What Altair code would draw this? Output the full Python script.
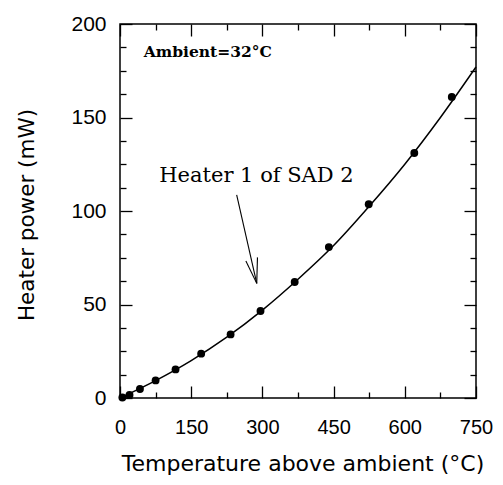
import altair as alt
import pandas as pd

# Measured points
temp_pts = [5, 20, 42, 75, 117, 171, 233, 296, 368, 440, 524, 620, 699]
power_pts = [0.3, 1.6, 4.8, 9.4, 15.3, 23.7, 34, 46.5, 62, 80.7, 103.6, 131, 161]

# Fitted curve
curve_temp = [0, 75, 150, 225, 300, 375, 450, 525, 600, 675, 750]
curve_power = [0, 9.3, 20, 32.5, 47, 63.5, 81.5, 102.5, 125, 150, 177]

# Axis ticks
x_major = [0, 150, 300, 450, 600, 750]
x_minor = [75, 225, 375, 525, 675]
y_major = [0, 50, 100, 150, 200]
y_minor = [12.5, 25, 37.5, 62.5, 75, 87.5, 112.5, 125, 137.5, 162.5, 175, 187.5]

# Arrow segments (shaft + two head strokes)
arrow_x0 = [245.8, 288.1, 288.1]
arrow_y0 = [108.6, 61.3, 61.3]
arrow_x1 = [288.1, 265.2, 289.6]
arrow_y1 = [61.3, 73.3, 75.2]

label_text = ["Heater 1 of SAD 2"]
label_x = [287.5]
label_y = [118.9]

amb_text = ["Ambient=32°C"]
amb_x = [50]
amb_y = [185.2]

x_title = ["Temperature above ambient (°C)"]
y_title = ["Heater power (mW)"]

W, H = 356, 374
MAJ, MIN = 12, 6

xs = alt.Scale(domain=[0, 750], nice=False, zero=False)
ys = alt.Scale(domain=[0, 200], nice=False, zero=False)

pts = pd.DataFrame({"t": temp_pts, "p": power_pts})
crv = pd.DataFrame({"t": curve_temp, "p": curve_power})


def tick_axis(orient, vals, length):
    # inward ticks: axis line pulled inside the frame, ticks reaching back to the edge
    return alt.Axis(orient=orient, values=vals, offset=-length, tickSize=length,
                    ticks=True, tickColor="black", tickWidth=1.3,
                    labels=False, domain=False, grid=False, title=None)


x_axis = alt.Axis(orient="bottom", values=x_major, ticks=False, domain=False, grid=False,
                  labelFontSize=20, labelPadding=19, labelFlush=False, title=None)
y_axis = alt.Axis(orient="left", values=y_major, ticks=False, domain=False, grid=False,
                  labelFontSize=21, labelPadding=14, labelFlush=False, title=None)

curve = alt.Chart(crv).mark_line(color="black", strokeWidth=1.5, interpolate="monotone").encode(
    x=alt.X("t:Q", scale=xs, axis=tick_axis("bottom", x_major, MAJ)),
    y=alt.Y("p:Q", scale=ys, axis=tick_axis("left", y_major, MAJ)),
)

arrow = alt.Chart(pd.DataFrame({"x0": arrow_x0, "y0": arrow_y0, "x1": arrow_x1, "y1": arrow_y1})).mark_rule(
    color="black", strokeWidth=1.1).encode(
    x=alt.X("x0:Q", scale=xs, axis=tick_axis("top", x_major, MAJ)),
    y=alt.Y("y0:Q", scale=ys, axis=tick_axis("right", y_major, MAJ)),
    x2="x1:Q", y2="y1:Q")

label = alt.Chart(pd.DataFrame({"x": label_x, "y": label_y, "s": label_text})).mark_text(
    font="DejaVu Serif", fontSize=21, align="center", baseline="middle", color="black").encode(
    x=alt.X("x:Q", scale=xs, axis=tick_axis("bottom", x_minor, MIN)),
    y=alt.Y("y:Q", scale=ys, axis=tick_axis("left", y_minor, MIN)),
    text="s:N")

amb = alt.Chart(pd.DataFrame({"x": amb_x, "y": amb_y, "s": amb_text})).mark_text(
    font="DejaVu Serif", fontSize=15.5, fontWeight="bold", align="left", baseline="middle", color="black").encode(
    x=alt.X("x:Q", scale=xs, axis=tick_axis("top", x_minor, MIN)),
    y=alt.Y("y:Q", scale=ys, axis=tick_axis("right", y_minor, MIN)),
    text="s:N")

# axis titles as text marks
xt = alt.Chart(pd.DataFrame({"s": x_title})).mark_text(
    font="DejaVu Sans", fontSize=22, align="center", baseline="middle", color="black").encode(
    x=alt.value(183), y=alt.value(H + 66), text="s:N")
yt = alt.Chart(pd.DataFrame({"s": y_title})).mark_text(
    font="DejaVu Sans", fontSize=21.5, align="center", baseline="middle", angle=270, color="black").encode(
    x=alt.value(-92), y=alt.value(191), text="s:N")

# this layer carries the labelled axes
points = alt.Chart(pts).mark_circle(color="black", size=62, opacity=1).encode(
    x=alt.X("t:Q", scale=xs, axis=x_axis),
    y=alt.Y("p:Q", scale=ys, axis=y_axis),
)

chart = alt.layer(curve, arrow, label, amb, xt, yt, points).resolve_axis(
    x="independent", y="independent"
).properties(
    width=W, height=H,
    autosize=alt.AutoSizeParams(type="none"),
    padding={"left": 112, "top": 16, "right": 19, "bottom": 79},
).configure(background="white").configure_view(stroke="black", strokeWidth=1.5)

chart.save("out.html", embed_options={"renderer": "svg", "actions": False})
